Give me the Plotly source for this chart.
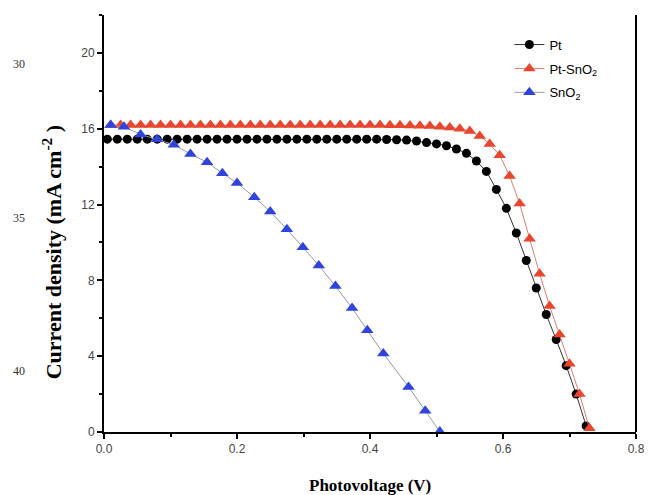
import plotly.graph_objects as go

# J-V data (V in volts, J in mA cm-2)
pt_v = [0.005, 0.02, 0.035, 0.05, 0.065, 0.08, 0.095, 0.11, 0.125, 0.14,
        0.155, 0.17, 0.185, 0.2, 0.215, 0.23, 0.245, 0.26, 0.275, 0.29,
        0.305, 0.32, 0.335, 0.35, 0.365, 0.38, 0.395, 0.41, 0.425, 0.44,
        0.455, 0.47, 0.485, 0.5, 0.515, 0.53, 0.545, 0.56, 0.575, 0.59,
        0.605, 0.62, 0.635, 0.65, 0.665, 0.68, 0.695, 0.71, 0.725]
pt_j = [15.45, 15.45, 15.45, 15.45, 15.45, 15.45, 15.45, 15.45, 15.45, 15.45,
        15.45, 15.45, 15.45, 15.45, 15.45, 15.45, 15.45, 15.45, 15.45, 15.45,
        15.45, 15.45, 15.45, 15.45, 15.45, 15.45, 15.45, 15.45, 15.43, 15.42,
        15.4, 15.35, 15.27, 15.2, 15.1, 14.93, 14.7, 14.3, 13.75, 12.8,
        11.8, 10.5, 9.05, 7.6, 6.2, 4.88, 3.5, 2.0, 0.32]

ptsno2_v = [0.01, 0.025, 0.04, 0.055, 0.07, 0.085, 0.1, 0.115, 0.13, 0.145,
            0.16, 0.175, 0.19, 0.205, 0.22, 0.235, 0.25, 0.265, 0.28, 0.295,
            0.31, 0.325, 0.34, 0.355, 0.37, 0.385, 0.4, 0.415, 0.43, 0.445,
            0.46, 0.475, 0.49, 0.505, 0.52, 0.535, 0.55, 0.565, 0.58, 0.595,
            0.61, 0.625, 0.64, 0.655, 0.67, 0.685, 0.7, 0.715, 0.73]
ptsno2_j = [16.2, 16.2, 16.2, 16.2, 16.2, 16.2, 16.2, 16.2, 16.2, 16.2,
            16.2, 16.2, 16.2, 16.2, 16.2, 16.2, 16.2, 16.2, 16.2, 16.2,
            16.2, 16.2, 16.2, 16.2, 16.2, 16.2, 16.2, 16.2, 16.19, 16.18,
            16.17, 16.16, 16.14, 16.11, 16.07, 16.0, 15.88, 15.62, 15.2, 14.6,
            13.5, 12.05, 10.2, 8.35, 6.65, 5.15, 3.6, 2.0, 0.2]

sno2_v = [0.01, 0.03, 0.055, 0.08, 0.105, 0.13, 0.155, 0.178, 0.2, 0.226,
          0.25, 0.275, 0.299, 0.323, 0.348, 0.373, 0.396, 0.42, 0.458, 0.483,
          0.505]
sno2_j = [16.2, 16.1, 15.7, 15.45, 15.16, 14.67, 14.23, 13.65, 13.14, 12.39,
          11.63, 10.7, 9.75, 8.79, 7.7, 6.54, 5.37, 4.14, 2.38, 1.12,
          0.02]

line_numbers = ["30", "35", "40"]

serif = "Liberation Serif"
sans = "Liberation Sans"

fig = go.Figure()
fig.add_trace(go.Scatter(
    x=pt_v, y=pt_j, name="Pt", mode="lines+markers", legendgroup="a",
    line=dict(color="#333333", width=1),
    marker=dict(symbol="circle", size=9, color="black"),
))
fig.add_trace(go.Scatter(
    x=ptsno2_v, y=ptsno2_j, name="Pt-SnO<sub>2</sub>", mode="lines+markers",
    legendgroup="b",
    line=dict(color="#d98070", width=1),
    marker=dict(symbol="triangle-up", size=11, color="#e8462e"),
))
fig.add_trace(go.Scatter(
    x=sno2_v, y=sno2_j, name="SnO<sub>2</sub>", mode="lines+markers",
    legendgroup="c",
    line=dict(color="#9a9aaa", width=1),
    marker=dict(symbol="triangle-up", size=11, color="#2f44dd"),
))

axis_common = dict(
    showgrid=False, zeroline=False, showline=True, linecolor="black",
    linewidth=2, ticks="outside", ticklen=5, tickwidth=1.5, tickcolor="black",
    tickfont=dict(family=sans, size=12, color="#444444"),
)
fig.update_xaxes(range=[0, 0.8], dtick=0.2, tickformat=".1f",
                 minor=dict(dtick=0.1, ticks="outside", ticklen=3, tickcolor="black"),
                 **axis_common)
fig.update_yaxes(range=[0, 22], dtick=4,
                 minor=dict(dtick=2, ticks="outside", ticklen=3, tickcolor="black"),
                 **axis_common)

# right spine (no top spine in the original)
fig.add_shape(type="line", xref="paper", yref="paper", x0=1, x1=1, y0=0, y1=1,
              line=dict(color="black", width=2))

fig.add_annotation(text="Photovoltage (V)", xref="paper", yref="paper",
                   x=0.5, y=-0.128, xanchor="center", yanchor="middle",
                   showarrow=False,
                   font=dict(family=serif, size=17, color="black", weight="bold"))
fig.add_annotation(text="Current density (mA cm<sup>-2</sup> )", xref="paper",
                   yref="paper", x=-0.0985, y=0.43, textangle=-90,
                   xanchor="center", yanchor="middle", showarrow=False,
                   font=dict(family=serif, size=22, color="black", weight="bold"))

# manuscript line numbers in the left margin
for txt, ypix in zip(line_numbers, [64, 218, 371]):
    fig.add_annotation(text=txt, xref="paper", yref="paper",
                       x=(18 - 104) / 538, y=(432 - ypix) / 417,
                       xanchor="center", yanchor="middle", showarrow=False,
                       font=dict(family=serif, size=12, color="#333333"))

# page body adds an 8px offset, so the figure is sized/margined to compensate
fig.update_layout(
    width=644, height=487,
    margin=dict(l=96, r=10, t=7, b=63),
    plot_bgcolor="white", paper_bgcolor="white",
    legend=dict(x=0.762, y=0.965, xanchor="left", yanchor="top",
                bgcolor="rgba(0,0,0,0)", tracegroupgap=4,
                font=dict(family=sans, size=13, color="black")),
)

fig.write_html("out.html")
